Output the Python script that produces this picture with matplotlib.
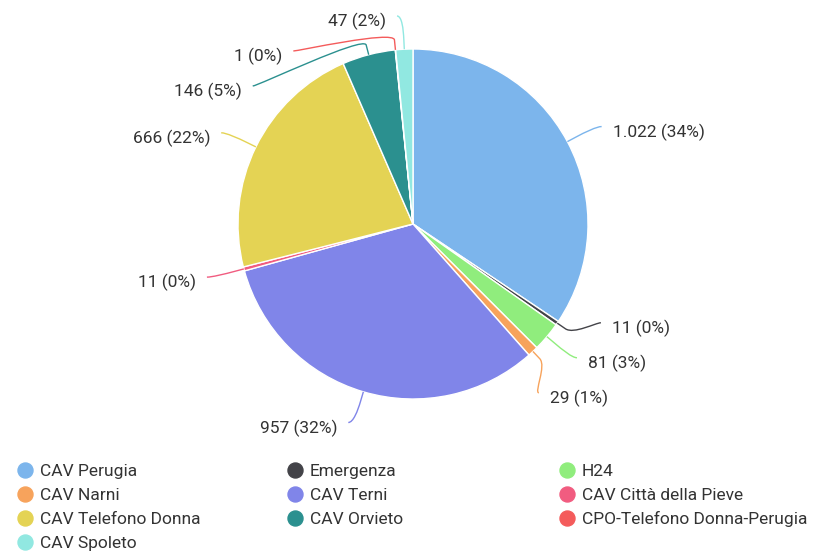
import numpy as np
import matplotlib
matplotlib.use("Agg")
import matplotlib.pyplot as plt
from matplotlib.path import Path
from matplotlib.patches import PathPatch

categories = ["CAV Perugia", "Emergenza", "H24", "CAV Narni", "CAV Terni",
              "CAV Città della Pieve", "CAV Telefono Donna", "CAV Orvieto",
              "CPO-Telefono Donna-Perugia", "CAV Spoleto"]
values = [1022, 11, 81, 29, 957, 11, 666, 146, 1, 47]
colors = ["#7cb5ec", "#434348", "#90ed7d", "#f7a35c", "#8085e9",
          "#f15c80", "#e4d354", "#2b908f", "#f45b5b", "#91e8e1"]

plt.rcParams["font.family"] = ["Roboto", "DejaVu Sans"]
TXT = "#333333"
FS = 12.5

W, H = 816, 553
fig = plt.figure(figsize=(W / 100, H / 100), dpi=100)
ax = fig.add_axes([0, 0, 1, 1])

CX, CY, R = 413, 224, 175   # pixel layout (y measured from top)
LD = 207                    # label ring radius
GAP = 35


def Y(y):
    return H - y


ax.pie(values, colors=colors, startangle=90, counterclock=False,
       center=(CX, Y(CY)), radius=R,
       wedgeprops=dict(edgecolor="white", linewidth=1))
ax.set_xlim(0, W)
ax.set_ylim(0, H)
ax.set_aspect("equal")
ax.axis("off")

total = sum(values)
fr = np.cumsum([0] + values) / total
mids = (fr[:-1] + fr[1:]) / 2 * 2 * np.pi


def fmt(v):
    return f"{v:,}".replace(",", ".") + f" ({round(v / total * 100)}%)"


def spread(ys, lo, hi):
    clusters = []
    for y in ys:
        clusters.append([y, 1, y])
        while len(clusters) > 1:
            p, c = clusters[-2], clusters[-1]
            if p[0] + p[1] * GAP > c[0]:
                n = p[1] + c[1]
                s = p[2] + c[2]
                clusters[-2:] = [[s / n - (n - 1) * GAP / 2, n, s]]
            else:
                break
    out = []
    for top, n, s in clusters:
        out += [top + k * GAP for k in range(n)]
    for k in range(len(out)):
        out[k] = max(out[k], lo if k == 0 else out[k - 1] + GAP)
    for k in range(len(out) - 1, -1, -1):
        out[k] = min(out[k], hi if k == len(out) - 1 else out[k + 1] - GAP)
    return out


pos = {}
for side in (True, False):
    idx = [i for i in range(len(values)) if (np.sin(mids[i]) < 0) == side]
    idx.sort(key=lambda i: CY - LD * np.cos(mids[i]))
    ys = spread([CY - LD * np.cos(mids[i]) for i in idx], 16, 440)
    for i, y in zip(idx, ys):
        pos[i] = y

for i, v in enumerate(values):
    th = mids[i]
    s, c = np.sin(th), np.cos(th)
    left = s < 0
    sg = -1 if left else 1
    y = pos[i]
    dy = y - CY
    xr = max(np.sqrt(max(LD ** 2 - dy ** 2, 0)), 10)
    xc = CX + sg * xr
    end = (xc + sg * 6, y)
    touch = (CX + R * s, CY - R * c)
    brk = (CX + (R + 10) * s, CY - (R + 10) * c)
    c1 = (end[0] - sg * 5, end[1])
    c2 = (2 * brk[0] - touch[0], 2 * brk[1] - touch[1])
    pts = [end, c1, c2, brk, touch]
    verts = [(px, Y(py)) for px, py in pts]
    path = Path(verts, [Path.MOVETO, Path.CURVE4, Path.CURVE4, Path.CURVE4, Path.LINETO])
    ax.add_patch(PathPatch(path, fill=False, edgecolor=colors[i], lw=1))
    ax.text(xc + sg * 17, Y(y + 5.5), fmt(v), ha="right" if left else "left",
            va="center", fontsize=FS, color=TXT)

# legend (row-wise, 3 columns)
leg_x = [25, 295, 567]
leg_y = [470, 494, 518, 542]
for k, (name, col) in enumerate(zip(categories, colors)):
    r, cidx = divmod(k, 3)
    ax.plot(leg_x[cidx], Y(leg_y[r]), "o", ms=10.8, color=col, mec=col)
    ax.text(leg_x[cidx] + 15, Y(leg_y[r] + 1.2), name, ha="left", va="center",
            fontsize=FS, color=TXT)

fig.savefig("out.png", dpi=100, facecolor="white")
